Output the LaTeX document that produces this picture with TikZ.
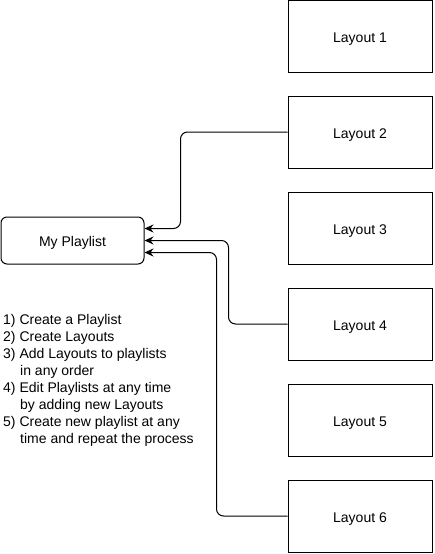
\documentclass[tikz,border=0pt]{standalone}
\usepackage{fontspec}
\setmainfont{Liberation Sans}
\usetikzlibrary{arrows.meta}
\tikzset{
  layout/.style={draw, line width=1pt, minimum width=144pt, minimum height=72pt, inner sep=0pt, text height=12pt, text depth=0pt, font=\fontsize{14}{16}\selectfont},
  playlist/.style={draw, line width=1pt, rounded corners=6pt, minimum width=143pt, minimum height=47pt, inner sep=0pt, text height=11.5pt, text depth=0pt, font=\fontsize{14}{16}\selectfont},
  link/.style={line width=1pt, rounded corners=7pt, -{Stealth[length=9pt,width=8pt,inset=3pt]}}
}

\begin{document}
\begin{tikzpicture}[x=1pt,y=-1pt]
\useasboundingbox (0,0) rectangle (434,554);
\foreach \i in {1,...,6}
  \node[layout] (l\i) at (360,{36+96*(\i-1)}) {Layout \i};
\node[playlist] (pl) at (72.5,240.5) {My Playlist};
\node[anchor=north west, align=left, inner sep=0pt, font=\fontsize{14}{17}\selectfont] (steps) at (3,314) {1) Create a Playlist\\
2) Create Layouts\\
3) Add Layouts to playlists\\
\hspace*{17pt}in any order\\
4) Edit Playlists at any time\\
\hspace*{17pt}by adding new Layouts\\
5) Create new playlist at any\\
\hspace*{17pt}time and repeat the process};
\draw[link] (l2.west) -- ++(-107,0) |- ([yshift=12pt]pl.east);
\draw[link] (l4.west) -- ++(-59,0) |- (pl.east);
\draw[link] (l6.west) -- ++(-71,0) |- ([yshift=-12pt]pl.east);
\end{tikzpicture}
\end{document}
